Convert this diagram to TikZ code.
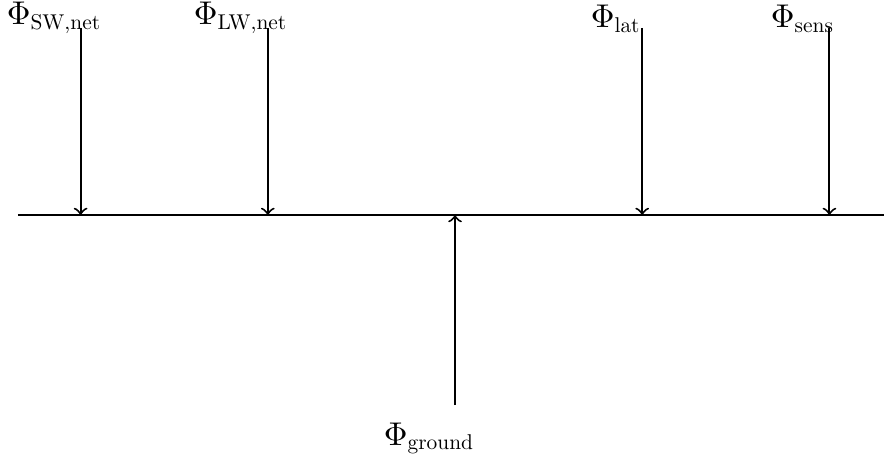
\documentclass[tikz,border=0pt]{standalone}
\usepackage{graphicx}
\newcommand{\fsub}[1]{\mbox{\scalebox{0.65}{#1}}}
\begin{document}
\begin{tikzpicture}[
  flux/.style={->, semithick},
  surf/.style={semithick},
  lbl/.style={anchor=base west, inner sep=0pt}
]
\useasboundingbox (-4.861,-2.650) rectangle (4.583,2.297);
% surface line
\coordinate (L) at (-4.67,0);
\coordinate (R) at (4.583,0);
\draw[surf] (L) -- (R);
% arrow endpoints
\coordinate (swT) at (-4,2);  \coordinate (swB) at (-4,0);
\coordinate (lwT) at (-2,2);  \coordinate (lwB) at (-2,0);
\coordinate (latT) at (2,2);  \coordinate (latB) at (2,0);
\coordinate (sensT) at (4,2); \coordinate (sensB) at (4,0);
\coordinate (gB) at (0,-2.03); \coordinate (gT) at (0,0);
% labels
\node[lbl] (sw) at (-4.795,2.03) {$\Phi_{\fsub{SW,net}}$};
\node[lbl] (lw) at (-2.797,2.03) {$\Phi_{\fsub{LW,net}}$};
\node[lbl] (lat) at (1.444,2.0) {$\Phi_{\fsub{lat}}$};
\node[lbl] (sens) at (3.368,2.0) {$\Phi_{\fsub{sens}}$};
\node[lbl] (ground) at (-0.767,-2.457) {$\Phi_{\fsub{ground}}$};
% arrows
\draw[flux] (swT) -- (swB);
\draw[flux] (lwT) -- (lwB);
\draw[flux] (latT) -- (latB);
\draw[flux] (sensT) -- (sensB);
\draw[flux] (gB) -- (gT);
\end{tikzpicture}
\end{document}
